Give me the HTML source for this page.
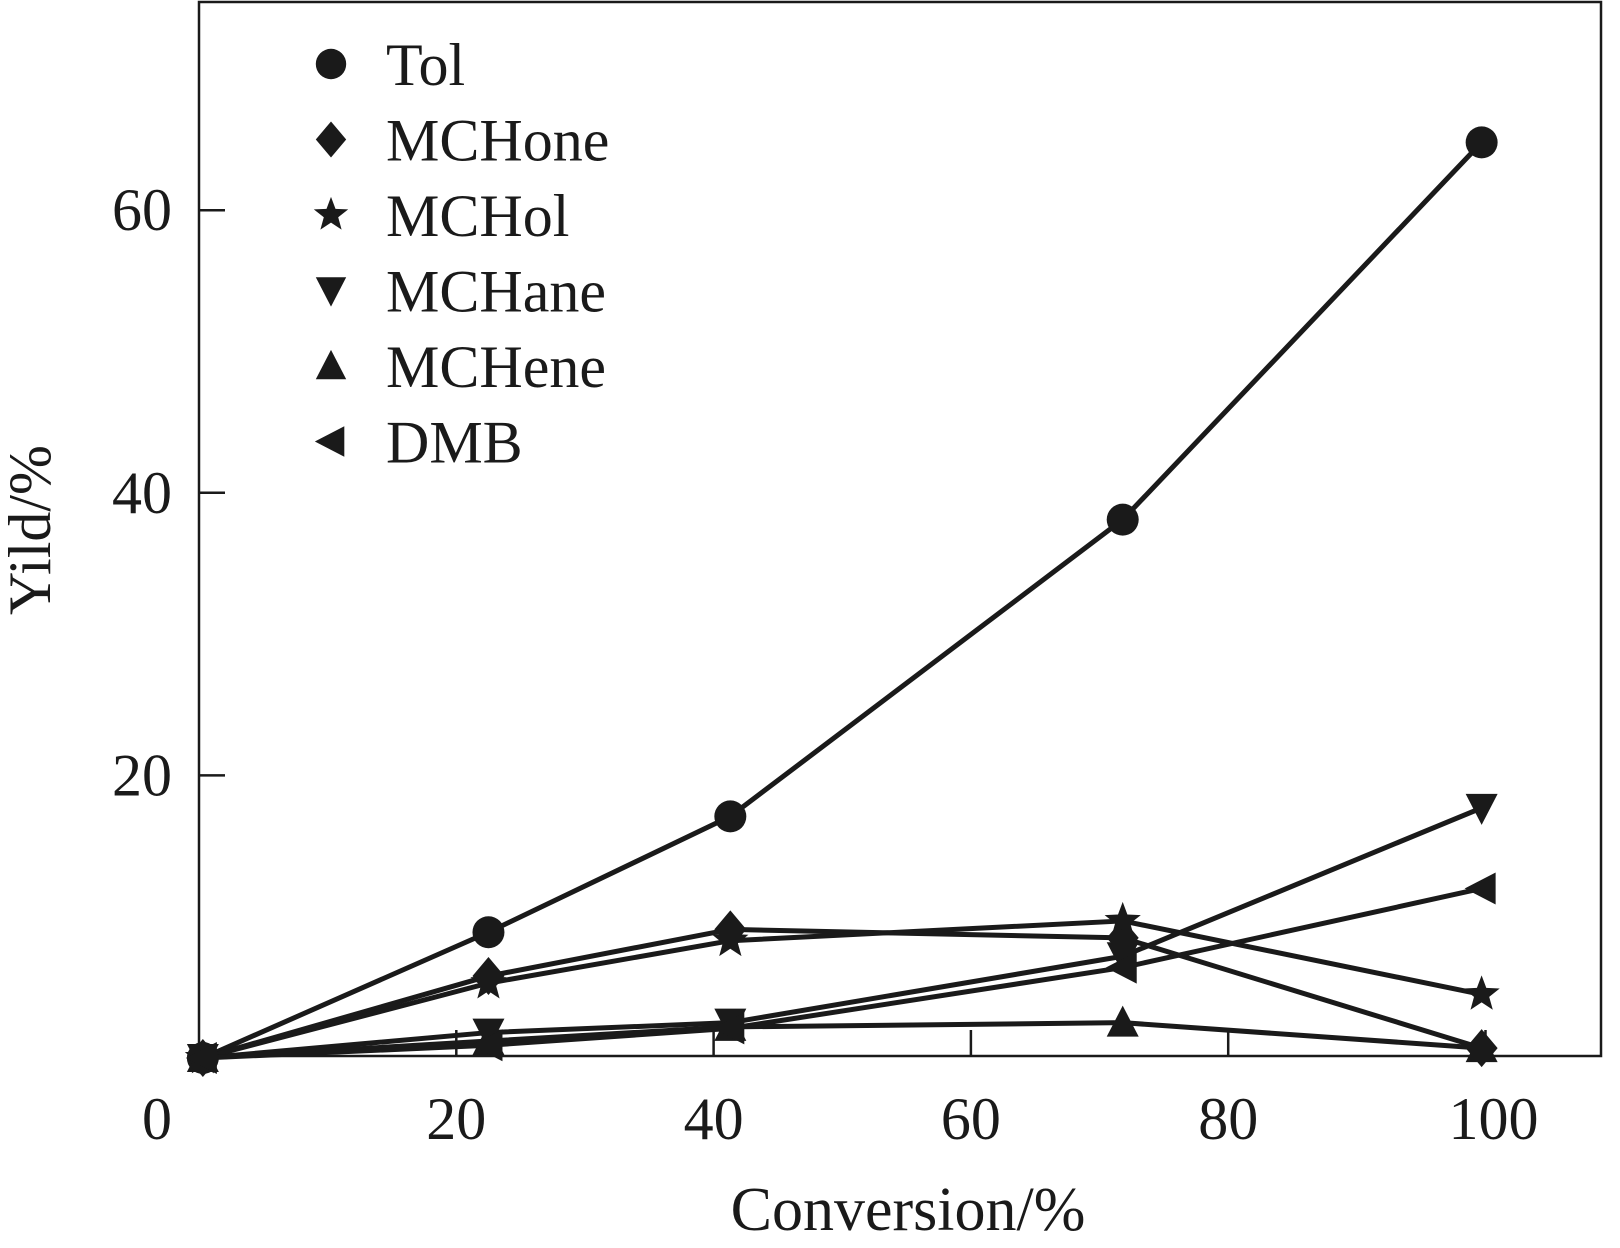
<!DOCTYPE html>
<html><head><meta charset="utf-8"><style>
html,body{margin:0;padding:0;background:#fff;}
svg{display:block;font-family:"Liberation Serif",serif;}
</style></head><body>
<svg id="chart" width="1620" height="1248" viewBox="0 0 1620 1248" xmlns="http://www.w3.org/2000/svg">
<rect x="199" y="2" width="1402" height="1054" fill="none" stroke="#1a1a1a" stroke-width="2.5"/>
<g id="axes"></g>
<g id="series"></g>
<g id="legend"></g>
<text x="908" y="1230" font-size="62" text-anchor="middle" fill="#1a1a1a">Conversion/%</text>
<text transform="translate(50,530) rotate(-90)" font-size="60" text-anchor="middle" fill="#1a1a1a">Yild/%</text>
</svg>
<script>
const xValues = [0.3, 22.5, 41.3, 71.8, 99.7];
const seriesNames = ["Tol","MCHone","MCHol","MCHane","MCHene","DMB"];
const tolValues = [0, 8.9, 17.1, 38.1, 64.8];
const mchoneValues = [0, 5.8, 9.1, 8.5, 0.7];
const mcholValues = [0, 5.3, 8.3, 9.7, 4.5];
const mchaneValues = [0, 1.8, 2.5, 7.2, 17.7];
const mcheneValues = [0, 1.2, 2.2, 2.5, 0.7];
const dmbValues = [0, 0.9, 2.1, 6.4, 12.0];
const xTicks = [0, 20, 40, 60, 80, 100];
const yTicks = [20, 40, 60];

const NS = "http://www.w3.org/2000/svg";
function sx(v){ return 199 + v * 12.865; }
function sy(v){ return 1058 - v * 14.13; }
function mk(tag, attrs, parent){ const e = document.createElementNS(NS, tag); for (const k in attrs) e.setAttribute(k, attrs[k]); parent.appendChild(e); return e; }
const C = "#1a1a1a";
const axes = document.getElementById("axes");
xTicks.forEach(t => {
  if (t > 0) {
    const l = mk("line", {x1: sx(t), x2: sx(t), y1: 1056, y2: 1030, stroke: C, "stroke-width": 2.5}, axes);
    
    
  }
  const tx = mk("text", {x: sx(t) - (t === 0 ? 42 : 0) + (t === 100 ? 8 : 0), y: 1139, "font-size": 60, "text-anchor": "middle", fill: C}, axes);
  tx.textContent = t;
  
  
});
yTicks.forEach(t => {
  const l = mk("line", {x1: 199, x2: 225, y1: sy(t), y2: sy(t), stroke: C, "stroke-width": 2.5}, axes);
  
  
  const tx = mk("text", {x: 172, y: sy(t) + 20, "font-size": 60, "text-anchor": "end", fill: C}, axes);
  tx.textContent = t;
  
  
});

function marker(type, x, y, parent, s){
  s = s || 1;
  let e;
  if (type === "circle") e = mk("circle", {cx: x, cy: y, r: 16*s, fill: C}, parent);
  else if (type === "diamond") e = mk("polygon", {points: `${x},${y-19*s} ${x+16*s},${y} ${x},${y+19*s} ${x-16*s},${y}`, fill: C}, parent);
  else if (type === "star") {
    let p = [];
    for (let i = 0; i < 10; i++) { const r = i % 2 ? 8*s : 19*s; const a = -Math.PI/2 + i*Math.PI/5; p.push((x + r*Math.cos(a)).toFixed(1) + "," + (y + r*Math.sin(a)).toFixed(1)); }
    e = mk("polygon", {points: p.join(" "), fill: C}, parent);
  }
  else if (type === "down") e = mk("polygon", {points: `${x-16*s},${y-14*s} ${x+16*s},${y-14*s} ${x},${y+17*s}`, fill: C}, parent);
  else if (type === "up") e = mk("polygon", {points: `${x-16*s},${y+14*s} ${x+16*s},${y+14*s} ${x},${y-17*s}`, fill: C}, parent);
  else e = mk("polygon", {points: `${x+14*s},${y-16*s} ${x+14*s},${y+16*s} ${x-17*s},${y}`, fill: C}, parent);
  return e;
}
const allSeries = [tolValues, mchoneValues, mcholValues, mchaneValues, mcheneValues, dmbValues];
const types = ["circle","diamond","star","down","up","left"];
const sg = document.getElementById("series");
allSeries.forEach((vals, i) => {
  const g = mk("g", {}, sg);
  
  
  const pl = mk("polyline", {points: vals.map((v, j) => sx(xValues[j]) + "," + sy(v)).join(" "), fill: "none", stroke: C, "stroke-width": 5, "stroke-linejoin": "round"}, g);
  
  
  vals.forEach((v, j) => {
    const m = marker(types[i], sx(xValues[j]), sy(v), g);
    
    
  });
});
const lg = document.getElementById("legend");
seriesNames.forEach((n, i) => {
  const y = 64 + i * 75.5;
  const g = mk("g", {}, lg);
  
  
  marker(types[i], 331, y, g, 0.95);
  const t = mk("text", {x: 386, y: y + 21, "font-size": 60, fill: C}, g);
  t.textContent = n;
});
</script>
</body></html>
